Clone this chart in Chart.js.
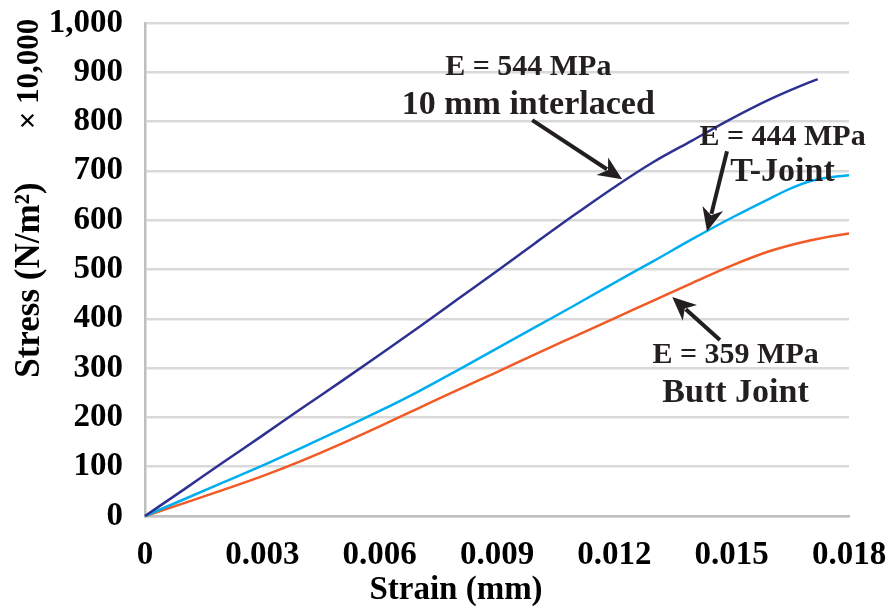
<!DOCTYPE html>
<html>
<head>
<meta charset="utf-8">
<script src="https://cdn.jsdelivr.net/npm/chart.js@4/dist/chart.umd.min.js"></script>
<style>
  html, body { margin: 0; padding: 0; background: #fff; }
  #wrap { width: 890px; height: 610px; }
</style>
</head>
<body>
<div id="wrap"><canvas id="chart" width="890" height="610"></canvas></div>
<script>

// strain values (mm) and stress (x 10,000 N/m2)
const interlacedStrain = [0, 0.001, 0.002, 0.003, 0.004, 0.005, 0.006, 0.007, 0.008, 0.009, 0.010, 0.011, 0.012, 0.013, 0.014, 0.015, 0.016, 0.017, 0.0172];
const interlacedStress = [0, 54, 109, 163, 218, 272, 327, 383, 440, 497, 555, 612, 667, 718, 762, 806, 846, 880, 886];

const tJointStrain = [0, 0.001, 0.002, 0.003, 0.004, 0.005, 0.006, 0.007, 0.008, 0.009, 0.010, 0.011, 0.012, 0.013, 0.014, 0.015, 0.016, 0.0165, 0.017, 0.0175, 0.018];
const tJointStress = [0, 34, 68, 102, 138, 175, 213, 253, 296, 340, 384, 428, 473, 517, 562, 605, 645, 664, 679, 687, 691];

const buttStrain = [0, 0.001, 0.002, 0.003, 0.004, 0.005, 0.006, 0.007, 0.008, 0.009, 0.010, 0.011, 0.012, 0.013, 0.014, 0.015, 0.016, 0.017, 0.018, 0.0185];
const buttStress = [0, 26, 53, 81, 112, 146, 182, 219, 256, 292, 329, 365, 401, 437, 473, 508, 538, 559, 573, 577];

const seriesNames = ['10 mm interlaced', 'T-Joint', 'Butt Joint'];
const seriesColors = ['#2e3192', '#00aeef', '#f15a24'];

const xTicks = [0, 0.003, 0.006, 0.009, 0.012, 0.015, 0.018];

// callouts: [line1, line2, text x, text y1, text y2, arrow from x, y, arrow to x, y] in data units
const callouts = [
    ['E = 544 MPa', '10 mm interlaced', 0.0098, 911, 834, 0.0099, 803, 0.0122, 683],
    ['E = 444 MPa', 'T-Joint', 0.0163, 769, 698, 0.01488, 740, 0.01437, 577],
    ['E = 359 MPa', 'Butt Joint', 0.0151, 327, 250, 0.0147, 357, 0.01348, 444]
];

const FONT = '"Liberation Serif", "Times New Roman", serif';

function zip(xs, ys) {
    return xs.map((x, i) => ({ x: x, y: ys[i] }));
}

const calloutPlugin = {
    id: 'callouts',
    afterDatasetsDraw(chart) {
        const ctx = chart.ctx;
        const xs = chart.scales.x, ys = chart.scales.y;
        ctx.save();
        ctx.fillStyle = '#231f20';
        ctx.strokeStyle = '#231f20';
        ctx.textAlign = 'center';
        ctx.textBaseline = 'middle';
        callouts.forEach(c => {
            const tx = xs.getPixelForValue(c[2]);
            ctx.font = 'bold 30px ' + FONT;
            ctx.fillText(c[0], tx, ys.getPixelForValue(c[3]));
            ctx.font = 'bold 34px ' + FONT;
            ctx.fillText(c[1], tx, ys.getPixelForValue(c[4]));

            const x1 = xs.getPixelForValue(c[5]), y1 = ys.getPixelForValue(c[6]);
            const x2 = xs.getPixelForValue(c[7]), y2 = ys.getPixelForValue(c[8]);
            const a = Math.atan2(y2 - y1, x2 - x1);
            const head = 26;
            ctx.lineWidth = 4;
            ctx.beginPath();
            ctx.moveTo(x1, y1);
            ctx.lineTo(x2 - Math.cos(a) * head * 0.7, y2 - Math.sin(a) * head * 0.7);
            ctx.stroke();
            ctx.beginPath();
            ctx.moveTo(x2, y2);
            ctx.lineTo(x2 - head * Math.cos(a - 0.42), y2 - head * Math.sin(a - 0.42));
            ctx.lineTo(x2 - head * 0.65 * Math.cos(a), y2 - head * 0.65 * Math.sin(a));
            ctx.lineTo(x2 - head * Math.cos(a + 0.42), y2 - head * Math.sin(a + 0.42));
            ctx.closePath();
            ctx.fill();
        });

        // axis titles and the display units label
        ctx.fillStyle = '#000';
        ctx.font = 'bold 33px ' + FONT;
        ctx.fillText('Strain (mm)', 456, 590);

        ctx.translate(30, 280);
        ctx.rotate(-Math.PI / 2);
        ctx.font = 'bold 35px ' + FONT;
        ctx.fillText('Stress (N/m\u00b2)', 0, 0);
        ctx.font = 'bold 31px ' + FONT;
        ctx.fillText('\u00d7 10,000', 206, 0);
        ctx.restore();
    }
};

new Chart(document.getElementById('chart'), {
    type: 'line',
    data: {
        datasets: [0, 1, 2].map(i => ({
            label: seriesNames[i],
            data: zip([interlacedStrain, tJointStrain, buttStrain][i], [interlacedStress, tJointStress, buttStress][i]),
            borderColor: seriesColors[i],
            borderWidth: 2.5,
            pointRadius: 0,
            cubicInterpolationMode: 'monotone',
            clip: false
        }))
    },
    options: {
        responsive: false,
        animation: false,
        layout: {
            padding: { left: 0, right: 41, top: 23, bottom: 0 }
        },
        plugins: {
            legend: { display: false },
            tooltip: { enabled: false }
        },
        scales: {
            x: {
                type: 'linear',
                min: 0,
                max: 0.018,
                afterBuildTicks: scale => { scale.ticks = xTicks.map(v => ({ value: v })); },
                afterFit: scale => {
                    scale.height = 94;
                    scale.paddingLeft = 0;
                    scale.paddingRight = 0;
                },
                grid: { display: false, drawTicks: false },
                border: { display: true, color: '#bfbfbf', width: 2.5 },
                ticks: {
                    color: '#000',
                    padding: 20,
                    maxRotation: 0,
                    font: { family: FONT, size: 33, weight: 'bold' },
                    callback: v => v === 0 ? '0' : v.toFixed(3)
                }
            },
            y: {
                min: 0,
                max: 1000,
                afterFit: scale => {
                    scale.width = 145;
                    scale.paddingTop = 0;
                    scale.paddingBottom = 0;
                },
                grid: { color: '#d9d9d9', lineWidth: 2.5, drawTicks: false },
                border: { display: true, color: '#bfbfbf', width: 2.5 },
                ticks: {
                    stepSize: 100,
                    color: '#000',
                    padding: 22,
                    font: { family: FONT, size: 33, weight: 'bold' },
                    callback: v => v.toLocaleString('en-US')
                }
            }
        }
    },
    plugins: [calloutPlugin]
});
</script>
</body>
</html>
